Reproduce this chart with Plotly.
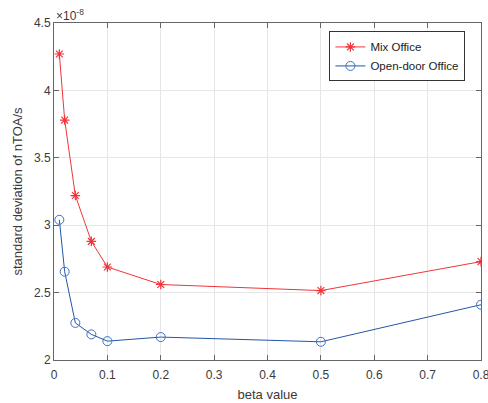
import plotly.graph_objects as go

beta = [0.01, 0.02, 0.04, 0.07, 0.1, 0.2, 0.5, 0.8]
mix_office = [4.27, 3.78, 3.22, 2.88, 2.69, 2.56, 2.515, 2.73]
open_door_office = [3.04, 2.655, 2.275, 2.19, 2.14, 2.17, 2.135, 2.41]
x_ticks = [0, 0.1, 0.2, 0.3, 0.4, 0.5, 0.6, 0.7, 0.8]
y_ticks = [2, 2.5, 3, 3.5, 4, 4.5]

fig = go.Figure()
fig.add_trace(go.Scatter(
    x=beta, y=mix_office, name="Mix Office", mode="lines+markers",
    line=dict(color="#f0353a", width=1),
    marker=dict(symbol="asterisk-open", size=8, color="#f0353a", line=dict(color="#f0353a", width=1.2)),
))
fig.add_trace(go.Scatter(
    x=beta, y=open_door_office, name="Open-door Office", mode="lines+markers",
    line=dict(color="#2356a8", width=1),
    marker=dict(symbol="circle-open", size=9, color="#3d72c4", line=dict(color="#3d72c4", width=1)),
))

axis_common = dict(
    showline=True, linecolor="#666666", linewidth=1, mirror="ticks",
    ticks="inside", ticklen=5, tickcolor="#666666",
    showgrid=True, gridcolor="#e6e6e6", gridwidth=1, zeroline=False,
    automargin=False, ticklabeloverflow="allow",
    tickfont=dict(family="Liberation Sans, Arial, sans-serif", size=12, color="#3a3a3a"),
)

fig.update_layout(
    width=488, height=403,
    margin=dict(l=54, r=7, t=23, b=43),
    paper_bgcolor="white", plot_bgcolor="white",
    font=dict(family="Liberation Sans, Arial, sans-serif", size=12, color="#3a3a3a"),
    xaxis=dict(range=[0, 0.8], tickvals=x_ticks, ticktext=[f"{v:g}" for v in x_ticks],
               ticklabelstandoff=4,
               title=dict(text="beta value", standoff=8, font=dict(size=13)), **axis_common),
    yaxis=dict(range=[2, 4.5], tickvals=y_ticks, ticktext=[f"{v:g}" for v in y_ticks],
               title=dict(text="standard deviation of nTOA/s", standoff=8, font=dict(size=13)), **axis_common),
    legend=dict(x=0.645, y=0.975, xanchor="left", yanchor="top",
                bgcolor="white", bordercolor="#333333", borderwidth=1,
                font=dict(size=11.5, color="#222222"), tracegroupgap=0,
                itemwidth=30),
    showlegend=True,
)

fig.add_annotation(
    x=0, y=1, xref="paper", yref="paper", xanchor="left", yanchor="bottom",
    text="×10<sup>-8</sup>", showarrow=False, xshift=0, yshift=-2,
    font=dict(size=12, color="#3a3a3a"),
)

fig.write_html("out.html", config={"displayModeBar": False},
               post_script="document.body.style.margin='0';")
